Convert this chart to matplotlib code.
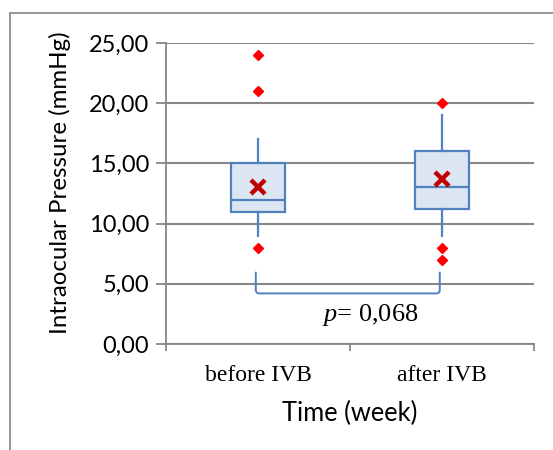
import matplotlib
matplotlib.use('Agg')
import matplotlib.pyplot as plt
from matplotlib.patches import Rectangle
from matplotlib.path import Path
from matplotlib.patches import PathPatch
from matplotlib.ticker import FixedLocator, FuncFormatter

plt.rcParams['mathtext.fontset'] = 'custom'
plt.rcParams['mathtext.it'] = 'Liberation Serif:italic'
plt.rcParams['mathtext.rm'] = 'Liberation Serif'

# data
groups = ['before IVB', 'after IVB']
q1 = [11.0, 11.2]
median = [12.0, 13.0]
q3 = [15.0, 16.0]
whisker_low = [9.0, 9.0]
whisker_high = [17.0, 19.0]
means = [13.07, 13.7]
outliers = [[24.0, 21.0, 8.0], [20.0, 8.0, 7.0]]
p_text = '0,068'
bracket_top = 6.0
bracket_bottom = 4.2

grid_col = '#868686'
box_edge = '#4f81bd'
box_fill = '#dce6f2'

fig = plt.figure(figsize=(5.53, 4.5), dpi=100)
ax = fig.add_axes([0.3002, 0.2356, 0.6654, 0.6688])

stats = []
for i in range(len(groups)):
    stats.append(dict(med=median[i], q1=q1[i], q3=q3[i],
                      whislo=whisker_low[i], whishi=whisker_high[i],
                      mean=means[i], fliers=outliers[i], label=groups[i]))

positions = [1, 2]
ax.bxp(stats, positions=positions, widths=0.29, showmeans=True, showcaps=False,
       patch_artist=True, manage_ticks=False,
       boxprops=dict(facecolor=box_fill, edgecolor=box_edge, linewidth=1.6),
       medianprops=dict(color=box_edge, linewidth=1.6),
       whiskerprops=dict(color=box_edge, linewidth=1.6),
       meanprops=dict(marker='x', markeredgecolor='#c00000', markersize=10,
                      markeredgewidth=3.2, linestyle='none'),
       flierprops=dict(marker='D', markerfacecolor='#ff0000', markeredgecolor='#ff0000',
                       markersize=5.5, linestyle='none'))

# significance bracket with rounded corners
x0, x1 = positions[0] - 0.012, positions[1] - 0.012
r_x, r_y = 0.02, 0.3
verts = [(x0, bracket_top), (x0, bracket_bottom + r_y), (x0, bracket_bottom),
         (x0 + r_x, bracket_bottom), (x1 - r_x, bracket_bottom), (x1, bracket_bottom),
         (x1, bracket_bottom + r_y), (x1, bracket_top)]
codes = [Path.MOVETO, Path.LINETO, Path.CURVE3, Path.CURVE3, Path.LINETO,
         Path.CURVE3, Path.CURVE3, Path.LINETO]
ax.add_patch(PathPatch(Path(verts, codes), fill=False, edgecolor=box_edge, linewidth=1.4))
ax.text(1.61, 2.4, r'$p$= ' + p_text, ha='center', va='center',
        fontsize=19, family='Liberation Serif')

ax.set_ylim(0, 25)
ax.set_xlim(0.5, 2.5)
ax.set_yticks([0, 5, 10, 15, 20, 25])
ax.yaxis.set_major_formatter(FuncFormatter(lambda v, _: f'{v:.2f}'.replace('.', ',')))
ax.yaxis.grid(True, color=grid_col, linewidth=1.5)
ax.set_axisbelow(True)

ax.xaxis.set_major_locator(FixedLocator([0.5, 1.5, 2.5]))
ax.xaxis.set_minor_locator(FixedLocator(positions))
ax.set_xticklabels([])
ax.set_xticklabels(groups, minor=True, family='Liberation Serif', fontsize=17)
ax.tick_params(axis='x', which='major', length=5, color=grid_col, width=1.3)
ax.tick_params(axis='x', which='minor', length=0, pad=15)
ax.tick_params(axis='y', length=7, color=grid_col, width=1.3, labelsize=17, pad=5)
for lab in ax.get_yticklabels():
    lab.set_family('Lato')

for s in ['top', 'right']:
    ax.spines[s].set_visible(False)
for s in ['left', 'bottom']:
    ax.spines[s].set_color(grid_col)
    ax.spines[s].set_linewidth(1.3)

ax.set_ylabel('Intraocular Pressure (mmHg)', family='Lato', fontsize=17.3, va='center')
ax.yaxis.set_label_coords(-0.288, 0.535)
ax.set_xlabel('Time (week)', family='Lato', fontsize=18.4, labelpad=11)

# outer chart border (runs off the right and bottom of the image)
fig.patches.append(Rectangle((10 / 553, -0.2), 2, (450 - 13) / 450 + 0.2,
                             transform=fig.transFigure, fill=False,
                             edgecolor='#8c8c8c', linewidth=1.3))

fig.savefig('out.png', dpi=100)
